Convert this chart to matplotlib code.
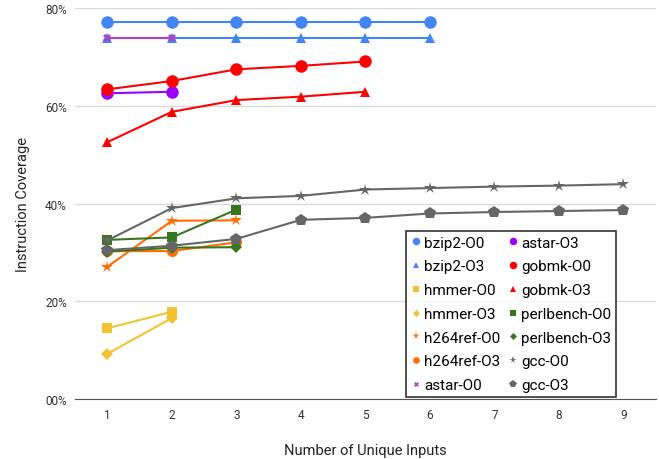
import matplotlib
matplotlib.use('Agg')
import matplotlib.pyplot as plt
from matplotlib.lines import Line2D
from matplotlib.ticker import FuncFormatter

plt.rcParams['font.family'] = ['Roboto', 'DejaVu Sans']

# Instruction coverage (%) per number of unique inputs
bzip2_o0 = [77.1, 77.1, 77.1, 77.1, 77.1, 77.1]
bzip2_o3 = [74.0, 74.0, 74.0, 74.0, 74.0, 74.0]
hmmer_o0 = [14.5, 17.9]
hmmer_o3 = [9.3, 16.6]
h264ref_o0 = [27.1, 36.5, 36.6]
h264ref_o3 = [30.3, 30.3, 32.1]
astar_o0 = [74.0, 74.0]
astar_o3 = [62.6, 62.9]
gobmk_o0 = [63.4, 65.1, 67.5, 68.2, 69.1]
gobmk_o3 = [52.6, 58.8, 61.2, 61.9, 62.9]
perlbench_o0 = [32.6, 33.1, 38.8]
perlbench_o3 = [30.2, 31.0, 31.1]
gcc_o0 = [32.5, 39.1, 41.1, 41.6, 42.9, 43.2, 43.5, 43.7, 44.0]
gcc_o3 = [30.5, 31.4, 32.8, 36.7, 37.1, 38.0, 38.3, 38.5, 38.7]

# name, values, colour, marker, marker size
series = [
    ('bzip2-O0', bzip2_o0, '#4285F4', 'o', 9),
    ('bzip2-O3', bzip2_o3, '#4285F4', '^', 7),
    ('hmmer-O0', hmmer_o0, '#F1C232', 's', 7),
    ('hmmer-O3', hmmer_o3, '#F1C232', 'D', 6),
    ('h264ref-O0', h264ref_o0, '#FF6D01', '*', 9),
    ('h264ref-O3', h264ref_o3, '#FF6D01', 'o', 8),
    ('astar-O0', astar_o0, '#A848C0', 'X', 6),
    ('astar-O3', astar_o3, '#9900FF', 'o', 9),
    ('gobmk-O0', gobmk_o0, '#FF0000', 'o', 9),
    ('gobmk-O3', gobmk_o3, '#FF0000', '^', 7),
    ('perlbench-O0', perlbench_o0, '#38761D', 's', 7),
    ('perlbench-O3', perlbench_o3, '#38761D', 'D', 6),
    ('gcc-O0', gcc_o0, '#666666', '*', 9),
    ('gcc-O3', gcc_o3, '#666666', 'p', 9),
]

fig = plt.figure(figsize=(6.59, 4.6), dpi=100)
ax = fig.add_axes([0.114, 0.13, 0.881, 0.85])

handles = []
for name, vals, col, mk, ms in series:
    xs = list(range(1, len(vals) + 1))
    ax.plot(xs, vals, color=col, marker=mk, markersize=ms, linewidth=1.5,
            markeredgewidth=0)
    handles.append(Line2D([], [], color=col, marker=mk, linestyle='none',
                          markersize=ms * 0.6, markeredgewidth=0, label=name))

ax.set_xlim(0.5, 9.5)
ax.set_ylim(0, 80)
ax.set_xticks(range(1, 10))
ax.set_yticks([0, 20, 40, 60, 80])
ax.yaxis.set_major_formatter(FuncFormatter(lambda v, p: '%02d%%' % v))
ax.grid(axis='y', color='#d9d9d9', linewidth=1)
ax.set_axisbelow(True)
for s in ['top', 'right', 'left']:
    ax.spines[s].set_visible(False)
ax.spines['bottom'].set_color('#555555')
ax.tick_params(axis='both', length=0, labelsize=8.5, colors='#333333')
ax.tick_params(axis='x', pad=6)
ax.tick_params(axis='y', pad=6)

ax.set_xlabel('Number of Unique Inputs', fontsize=10.5, color='#222222', labelpad=16)
ax.set_ylabel('Instruction Coverage', fontsize=10.5, color='#222222', labelpad=11)

leg = ax.legend(handles=handles, ncol=2, loc='lower left',
                bbox_to_anchor=(0.570, 0.006), fontsize=11, frameon=True,
                fancybox=False, edgecolor='black', handletextpad=0.2,
                handlelength=0.7, labelspacing=0.64, columnspacing=0.45,
                borderpad=0.3, borderaxespad=0)
leg.get_frame().set_linewidth(1.2)

fig.savefig('out.png', dpi=100)
